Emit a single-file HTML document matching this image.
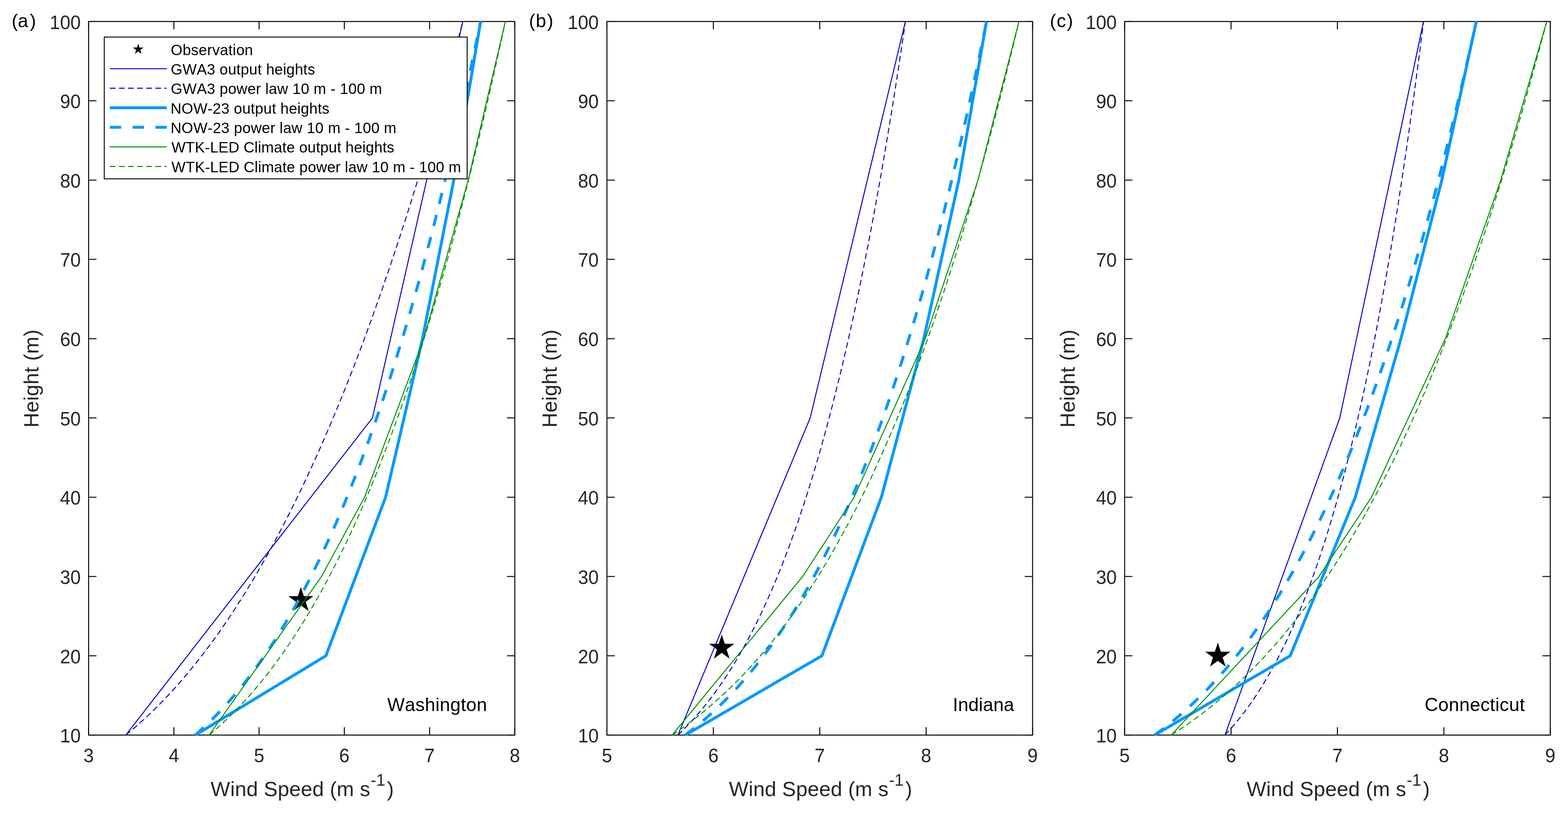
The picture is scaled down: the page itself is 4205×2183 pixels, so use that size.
<!DOCTYPE html>
<html lang="en">
<head>
<meta charset="utf-8">
<title>Wind speed profiles</title>
<style>
html,body{margin:0;padding:0;background:#fff;width:4205px;height:2183px;overflow:hidden;}
svg{display:block;}
text{font-family:"Liberation Sans",Arial,Helvetica,sans-serif;font-kerning:none;white-space:pre;}
.tk{font-size:50px;fill:#262626;}
.lb{font-size:55.5px;fill:#262626;}
.sp{font-size:44.4px;fill:#262626;}
.lg{font-size:40.2px;fill:#000;}
.an{font-size:50px;fill:#000;}
.ax{stroke:#000;stroke-width:2.6;fill:none;stroke-linecap:butt;}
.l{fill:none;stroke-linejoin:round;stroke-linecap:butt;}
.db{stroke:#0000cd;stroke-width:2.65;}
.lbl{stroke:#0099ff;stroke-width:7.8;}
.gr{stroke:#009000;stroke-width:2.65;}
.d1{stroke-dasharray:15.3 9.1;}
.d2{stroke-dasharray:30.5 30.6;}
</style>
</head>
<body>
<svg width="4205" height="2183" viewBox="0 0 4205 2183" role="img" aria-label="Wind speed profiles versus height for Washington, Indiana and Connecticut">
<rect x="0" y="0" width="4205" height="2183" fill="#fff"/>
<g id="panel-a">
<rect class="ax" x="237.7" y="57.7" width="1142.9" height="1913.6"/>
<path class="ax" d="M237.7 1971.3 v-21 M237.7 57.7 v21 M466.28 1971.3 v-21 M466.28 57.7 v21 M694.86 1971.3 v-21 M694.86 57.7 v21 M923.44 1971.3 v-21 M923.44 57.7 v21 M1152.02 1971.3 v-21 M1152.02 57.7 v21 M1380.6 1971.3 v-21 M1380.6 57.7 v21 M237.7 1971.3 h21 M1380.6 1971.3 h-21 M237.7 1758.68 h21 M1380.6 1758.68 h-21 M237.7 1546.06 h21 M1380.6 1546.06 h-21 M237.7 1333.43 h21 M1380.6 1333.43 h-21 M237.7 1120.81 h21 M1380.6 1120.81 h-21 M237.7 908.19 h21 M1380.6 908.19 h-21 M237.7 695.57 h21 M1380.6 695.57 h-21 M237.7 482.94 h21 M1380.6 482.94 h-21 M237.7 270.32 h21 M1380.6 270.32 h-21 M237.7 57.7 h21 M1380.6 57.7 h-21"/>
<polygon points="806.86,1574.24 814.86,1598.84 840.72,1598.84 819.8,1614.04 827.79,1638.64 806.86,1623.44 785.94,1638.64 793.93,1614.04 773.01,1598.84 798.87,1598.84" fill="#000"/>
<path class="l db" d="M337.36 1971.3 L998.87 1120.81 L1241.17 57.7"/>
<path class="l db d1" d="M337.36 1971.3 L362.66 1950.04 L386.46 1928.78 L408.97 1907.51 L430.36 1886.25 L450.75 1864.99 L470.25 1843.73 L488.95 1822.46 L506.94 1801.2 L524.26 1779.94 L540.99 1758.68 L557.17 1737.42 L572.85 1716.15 L588.05 1694.89 L602.82 1673.63 L617.19 1652.37 L631.17 1631.1 L644.81 1609.84 L658.11 1588.58 L671.09 1567.32 L683.78 1546.06 L696.19 1524.79 L708.34 1503.53 L720.23 1482.27 L731.89 1461.01 L743.32 1439.74 L754.54 1418.48 L765.55 1397.22 L776.36 1375.96 L786.98 1354.7 L797.42 1333.43 L807.69 1312.17 L817.8 1290.91 L827.74 1269.65 L837.54 1248.38 L847.18 1227.12 L856.68 1205.86 L866.05 1184.6 L875.28 1163.34 L884.39 1142.07 L893.37 1120.81 L902.24 1099.55 L910.99 1078.29 L919.62 1057.02 L928.15 1035.76 L936.58 1014.5 L944.9 993.24 L953.12 971.98 L961.25 950.71 L969.29 929.45 L977.23 908.19 L985.09 886.93 L992.86 865.66 L1000.55 844.4 L1008.16 823.14 L1015.68 801.88 L1023.14 780.62 L1030.51 759.35 L1037.82 738.09 L1045.05 716.83 L1052.21 695.57 L1059.3 674.3 L1066.33 653.04 L1073.3 631.78 L1080.2 610.52 L1087.03 589.26 L1093.81 567.99 L1100.53 546.73 L1107.19 525.47 L1113.79 504.21 L1120.34 482.94 L1126.83 461.68 L1133.27 440.42 L1139.66 419.16 L1146 397.9 L1152.28 376.63 L1158.52 355.37 L1164.71 334.11 L1170.85 312.85 L1176.95 291.58 L1183 270.32 L1189 249.06 L1194.96 227.8 L1200.88 206.54 L1206.76 185.27 L1212.59 164.01 L1218.39 142.75 L1224.14 121.49 L1229.85 100.22 L1235.53 78.96 L1241.17 57.7"/>
<path class="l lbl" d="M523.65 1971.3 L874.07 1758.68 L1034.07 1333.43 L1133.05 908.19 L1216.94 482.94 L1288.94 57.7"/>
<path class="l lbl d2" d="M523.65 1971.3 L547.3 1950.04 L569.39 1928.78 L590.14 1907.51 L609.73 1886.25 L628.3 1864.99 L645.97 1843.73 L662.83 1822.46 L678.96 1801.2 L694.44 1779.94 L709.32 1758.68 L723.65 1737.42 L737.48 1716.15 L750.85 1694.89 L763.79 1673.63 L776.34 1652.37 L788.51 1631.1 L800.34 1609.84 L811.85 1588.58 L823.05 1567.32 L833.97 1546.06 L844.62 1524.79 L855.01 1503.53 L865.16 1482.27 L875.09 1461.01 L884.8 1439.74 L894.31 1418.48 L903.62 1397.22 L912.74 1375.96 L921.69 1354.7 L930.46 1333.43 L939.08 1312.17 L947.54 1290.91 L955.84 1269.65 L964.01 1248.38 L972.04 1227.12 L979.93 1205.86 L987.7 1184.6 L995.35 1163.34 L1002.87 1142.07 L1010.29 1120.81 L1017.59 1099.55 L1024.79 1078.29 L1031.88 1057.02 L1038.88 1035.76 L1045.78 1014.5 L1052.58 993.24 L1059.3 971.98 L1065.92 950.71 L1072.47 929.45 L1078.93 908.19 L1085.31 886.93 L1091.61 865.66 L1097.84 844.4 L1103.99 823.14 L1110.07 801.88 L1116.09 780.62 L1122.03 759.35 L1127.91 738.09 L1133.72 716.83 L1139.48 695.57 L1145.17 674.3 L1150.8 653.04 L1156.37 631.78 L1161.89 610.52 L1167.35 589.26 L1172.75 567.99 L1178.11 546.73 L1183.41 525.47 L1188.66 504.21 L1193.86 482.94 L1199.02 461.68 L1204.12 440.42 L1209.18 419.16 L1214.2 397.9 L1219.17 376.63 L1224.09 355.37 L1228.98 334.11 L1233.82 312.85 L1238.62 291.58 L1243.38 270.32 L1248.1 249.06 L1252.78 227.8 L1257.43 206.54 L1262.04 185.27 L1266.61 164.01 L1271.14 142.75 L1275.64 121.49 L1280.11 100.22 L1284.54 78.96 L1288.94 57.7"/>
<path class="l gr" d="M560.91 1971.3 L862.18 1546.06 L977.61 1333.43 L1136.48 908.19 L1255.57 482.94 L1355.23 57.7"/>
<path class="l gr d1" d="M560.91 1971.3 L585.46 1950.04 L608.39 1928.78 L629.93 1907.51 L650.26 1886.25 L669.54 1864.99 L687.88 1843.73 L705.38 1822.46 L722.13 1801.2 L738.19 1779.94 L753.64 1758.68 L768.51 1737.42 L782.87 1716.15 L796.75 1694.89 L810.18 1673.63 L823.2 1652.37 L835.83 1631.1 L848.11 1609.84 L860.05 1588.58 L871.68 1567.32 L883.01 1546.06 L894.07 1524.79 L904.86 1503.53 L915.39 1482.27 L925.7 1461.01 L935.78 1439.74 L945.64 1418.48 L955.31 1397.22 L964.78 1375.96 L974.06 1354.7 L983.17 1333.43 L992.11 1312.17 L1000.89 1290.91 L1009.51 1269.65 L1017.99 1248.38 L1026.32 1227.12 L1034.52 1205.86 L1042.58 1184.6 L1050.51 1163.34 L1058.33 1142.07 L1066.02 1120.81 L1073.6 1099.55 L1081.07 1078.29 L1088.43 1057.02 L1095.69 1035.76 L1102.85 1014.5 L1109.92 993.24 L1116.89 971.98 L1123.77 950.71 L1130.56 929.45 L1137.26 908.19 L1143.88 886.93 L1150.43 865.66 L1156.89 844.4 L1163.28 823.14 L1169.59 801.88 L1175.83 780.62 L1182 759.35 L1188.1 738.09 L1194.14 716.83 L1200.11 695.57 L1206.01 674.3 L1211.86 653.04 L1217.64 631.78 L1223.37 610.52 L1229.03 589.26 L1234.64 567.99 L1240.2 546.73 L1245.7 525.47 L1251.15 504.21 L1256.55 482.94 L1261.9 461.68 L1267.2 440.42 L1272.45 419.16 L1277.66 397.9 L1282.81 376.63 L1287.93 355.37 L1293 334.11 L1298.02 312.85 L1303 291.58 L1307.94 270.32 L1312.84 249.06 L1317.7 227.8 L1322.53 206.54 L1327.31 185.27 L1332.05 164.01 L1336.76 142.75 L1341.43 121.49 L1346.06 100.22 L1350.66 78.96 L1355.23 57.7"/>
<text class="tk" transform="translate(237.7 2043.5) scale(1 1.034)" text-anchor="middle">3</text>
<text class="tk" transform="translate(466.28 2043.5) scale(1 1.034)" text-anchor="middle">4</text>
<text class="tk" transform="translate(694.86 2043.5) scale(1 1.034)" text-anchor="middle">5</text>
<text class="tk" transform="translate(923.44 2043.5) scale(1 1.034)" text-anchor="middle">6</text>
<text class="tk" transform="translate(1152.02 2043.5) scale(1 1.034)" text-anchor="middle">7</text>
<text class="tk" transform="translate(1380.6 2043.5) scale(1 1.034)" text-anchor="middle">8</text>
<text class="tk" transform="translate(216.6 1991.2) scale(1 1.034)" text-anchor="end">10</text>
<text class="tk" transform="translate(216.6 1778.58) scale(1 1.034)" text-anchor="end">20</text>
<text class="tk" transform="translate(216.6 1565.96) scale(1 1.034)" text-anchor="end">30</text>
<text class="tk" transform="translate(216.6 1353.33) scale(1 1.034)" text-anchor="end">40</text>
<text class="tk" transform="translate(216.6 1140.71) scale(1 1.034)" text-anchor="end">50</text>
<text class="tk" transform="translate(216.6 928.09) scale(1 1.034)" text-anchor="end">60</text>
<text class="tk" transform="translate(216.6 715.47) scale(1 1.034)" text-anchor="end">70</text>
<text class="tk" transform="translate(216.6 502.84) scale(1 1.034)" text-anchor="end">80</text>
<text class="tk" transform="translate(216.6 290.22) scale(1 1.034)" text-anchor="end">90</text>
<text class="tk" transform="translate(216.6 77.6) scale(1 1.034)" text-anchor="end">100</text>
<text class="lb" x="564.86" y="2134.7" letter-spacing="0.16">Wind Speed (m s<tspan class="sp" x="994.03" y="2106.7" letter-spacing="0">-1</tspan><tspan x="1037.82" y="2134.7" letter-spacing="0">)</tspan></text>
<text class="lb" transform="translate(103.2 1142.3) rotate(-90)" x="-4.55" y="0" letter-spacing="0.45">Height (m)</text>
<text class="an" x="31.22 47.83 79.93" y="72.5">(a)</text>
<text class="an" x="1038.28" y="1906.5" letter-spacing="0.41">Washington</text>
</g>
<g id="panel-b">
<rect class="ax" x="1627.7" y="57.7" width="1141.4" height="1913.6"/>
<path class="ax" d="M1627.7 1971.3 v-21 M1627.7 57.7 v21 M1913.05 1971.3 v-21 M1913.05 57.7 v21 M2198.4 1971.3 v-21 M2198.4 57.7 v21 M2483.75 1971.3 v-21 M2483.75 57.7 v21 M2769.1 1971.3 v-21 M2769.1 57.7 v21 M1627.7 1971.3 h21 M2769.1 1971.3 h-21 M1627.7 1758.68 h21 M2769.1 1758.68 h-21 M1627.7 1546.06 h21 M2769.1 1546.06 h-21 M1627.7 1333.43 h21 M2769.1 1333.43 h-21 M1627.7 1120.81 h21 M2769.1 1120.81 h-21 M1627.7 908.19 h21 M2769.1 908.19 h-21 M1627.7 695.57 h21 M2769.1 695.57 h-21 M1627.7 482.94 h21 M2769.1 482.94 h-21 M1627.7 270.32 h21 M2769.1 270.32 h-21 M1627.7 57.7 h21 M2769.1 57.7 h-21"/>
<polygon points="1935.59,1701.82 1943.59,1726.41 1969.45,1726.41 1948.53,1741.62 1956.52,1766.22 1935.59,1751.01 1914.67,1766.22 1922.66,1741.62 1901.74,1726.41 1927.6,1726.41" fill="#000"/>
<path class="l db" d="M1818.03 1971.3 L2172.72 1120.81 L2428.11 57.7"/>
<path class="l db d1" d="M1818.03 1971.3 L1839.6 1950.04 L1859.54 1928.78 L1878.1 1907.51 L1895.47 1886.25 L1911.8 1864.99 L1927.22 1843.73 L1941.83 1822.46 L1955.72 1801.2 L1968.95 1779.94 L1981.61 1758.68 L1993.73 1737.42 L2005.36 1716.15 L2016.54 1694.89 L2027.32 1673.63 L2037.71 1652.37 L2047.75 1631.1 L2057.47 1609.84 L2066.88 1588.58 L2076 1567.32 L2084.86 1546.06 L2093.47 1524.79 L2101.84 1503.53 L2109.99 1482.27 L2117.93 1461.01 L2125.67 1439.74 L2133.22 1418.48 L2140.6 1397.22 L2147.8 1375.96 L2154.84 1354.7 L2161.73 1333.43 L2168.47 1312.17 L2175.08 1290.91 L2181.55 1269.65 L2187.89 1248.38 L2194.1 1227.12 L2200.2 1205.86 L2206.19 1184.6 L2212.07 1163.34 L2217.84 1142.07 L2223.51 1120.81 L2229.09 1099.55 L2234.57 1078.29 L2239.96 1057.02 L2245.27 1035.76 L2250.49 1014.5 L2255.63 993.24 L2260.69 971.98 L2265.68 950.71 L2270.59 929.45 L2275.43 908.19 L2280.2 886.93 L2284.91 865.66 L2289.55 844.4 L2294.13 823.14 L2298.64 801.88 L2303.1 780.62 L2307.5 759.35 L2311.84 738.09 L2316.13 716.83 L2320.37 695.57 L2324.55 674.3 L2328.68 653.04 L2332.77 631.78 L2336.8 610.52 L2340.79 589.26 L2344.74 567.99 L2348.64 546.73 L2352.49 525.47 L2356.31 504.21 L2360.08 482.94 L2363.81 461.68 L2367.5 440.42 L2371.16 419.16 L2374.77 397.9 L2378.35 376.63 L2381.9 355.37 L2385.4 334.11 L2388.88 312.85 L2392.32 291.58 L2395.72 270.32 L2399.1 249.06 L2402.44 227.8 L2405.75 206.54 L2409.03 185.27 L2412.28 164.01 L2415.5 142.75 L2418.7 121.49 L2421.86 100.22 L2425 78.96 L2428.11 57.7"/>
<path class="l lbl" d="M1837.72 1971.3 L2204.11 1758.68 L2363.62 1333.43 L2477.47 908.19 L2571.35 482.94 L2645.54 57.7"/>
<path class="l lbl d2" d="M1837.72 1971.3 L1865.12 1950.04 L1890.54 1928.78 L1914.27 1907.51 L1936.53 1886.25 L1957.52 1864.99 L1977.38 1843.73 L1996.24 1822.46 L2014.21 1801.2 L2031.37 1779.94 L2047.8 1758.68 L2063.57 1737.42 L2078.73 1716.15 L2093.32 1694.89 L2107.41 1673.63 L2121.02 1652.37 L2134.18 1631.1 L2146.93 1609.84 L2159.3 1588.58 L2171.31 1567.32 L2182.98 1546.06 L2194.34 1524.79 L2205.39 1503.53 L2216.17 1482.27 L2226.68 1461.01 L2236.93 1439.74 L2246.95 1418.48 L2256.74 1397.22 L2266.31 1375.96 L2275.68 1354.7 L2284.85 1333.43 L2293.84 1312.17 L2302.64 1290.91 L2311.28 1269.65 L2319.75 1248.38 L2328.06 1227.12 L2336.22 1205.86 L2344.23 1184.6 L2352.11 1163.34 L2359.85 1142.07 L2367.46 1120.81 L2374.95 1099.55 L2382.32 1078.29 L2389.57 1057.02 L2396.71 1035.76 L2403.74 1014.5 L2410.66 993.24 L2417.49 971.98 L2424.21 950.71 L2430.85 929.45 L2437.38 908.19 L2443.83 886.93 L2450.2 865.66 L2456.48 844.4 L2462.67 823.14 L2468.79 801.88 L2474.83 780.62 L2480.8 759.35 L2486.69 738.09 L2492.51 716.83 L2498.26 695.57 L2503.94 674.3 L2509.56 653.04 L2515.12 631.78 L2520.61 610.52 L2526.04 589.26 L2531.41 567.99 L2536.73 546.73 L2541.98 525.47 L2547.18 504.21 L2552.33 482.94 L2557.43 461.68 L2562.47 440.42 L2567.46 419.16 L2572.4 397.9 L2577.3 376.63 L2582.15 355.37 L2586.95 334.11 L2591.7 312.85 L2596.41 291.58 L2601.08 270.32 L2605.71 249.06 L2610.29 227.8 L2614.83 206.54 L2619.33 185.27 L2623.8 164.01 L2628.22 142.75 L2632.61 121.49 L2636.95 100.22 L2641.27 78.96 L2645.54 57.7"/>
<path class="l gr" d="M1802.48 1971.3 L2152.46 1546.06 L2290.57 1333.43 L2481.47 908.19 L2622.72 482.94 L2732.58 57.7"/>
<path class="l gr d1" d="M1802.48 1971.3 L1833.12 1950.04 L1861.61 1928.78 L1888.26 1907.51 L1913.31 1886.25 L1936.96 1864.99 L1959.39 1843.73 L1980.71 1822.46 L2001.06 1801.2 L2020.52 1779.94 L2039.17 1758.68 L2057.1 1737.42 L2074.35 1716.15 L2090.98 1694.89 L2107.05 1673.63 L2122.58 1652.37 L2137.63 1631.1 L2152.22 1609.84 L2166.38 1588.58 L2180.15 1567.32 L2193.54 1546.06 L2206.57 1524.79 L2219.27 1503.53 L2231.66 1482.27 L2243.75 1461.01 L2255.56 1439.74 L2267.11 1418.48 L2278.4 1397.22 L2289.44 1375.96 L2300.26 1354.7 L2310.86 1333.43 L2321.24 1312.17 L2331.43 1290.91 L2341.42 1269.65 L2351.23 1248.38 L2360.86 1227.12 L2370.32 1205.86 L2379.62 1184.6 L2388.76 1163.34 L2397.75 1142.07 L2406.59 1120.81 L2415.3 1099.55 L2423.86 1078.29 L2432.3 1057.02 L2440.61 1035.76 L2448.8 1014.5 L2456.87 993.24 L2464.82 971.98 L2472.66 950.71 L2480.4 929.45 L2488.03 908.19 L2495.56 886.93 L2502.99 865.66 L2510.33 844.4 L2517.57 823.14 L2524.73 801.88 L2531.79 780.62 L2538.77 759.35 L2545.67 738.09 L2552.49 716.83 L2559.23 695.57 L2565.89 674.3 L2572.48 653.04 L2578.99 631.78 L2585.43 610.52 L2591.81 589.26 L2598.11 567.99 L2604.35 546.73 L2610.53 525.47 L2616.64 504.21 L2622.69 482.94 L2628.68 461.68 L2634.61 440.42 L2640.48 419.16 L2646.3 397.9 L2652.06 376.63 L2657.77 355.37 L2663.43 334.11 L2669.03 312.85 L2674.58 291.58 L2680.08 270.32 L2685.54 249.06 L2690.94 227.8 L2696.3 206.54 L2701.61 185.27 L2706.88 164.01 L2712.11 142.75 L2717.29 121.49 L2722.42 100.22 L2727.52 78.96 L2732.58 57.7"/>
<text class="tk" transform="translate(1627.7 2043.5) scale(1 1.034)" text-anchor="middle">5</text>
<text class="tk" transform="translate(1913.05 2043.5) scale(1 1.034)" text-anchor="middle">6</text>
<text class="tk" transform="translate(2198.4 2043.5) scale(1 1.034)" text-anchor="middle">7</text>
<text class="tk" transform="translate(2483.75 2043.5) scale(1 1.034)" text-anchor="middle">8</text>
<text class="tk" transform="translate(2769.1 2043.5) scale(1 1.034)" text-anchor="middle">9</text>
<text class="tk" transform="translate(1605.6 1991.2) scale(1 1.034)" text-anchor="end">10</text>
<text class="tk" transform="translate(1605.6 1778.58) scale(1 1.034)" text-anchor="end">20</text>
<text class="tk" transform="translate(1605.6 1565.96) scale(1 1.034)" text-anchor="end">30</text>
<text class="tk" transform="translate(1605.6 1353.33) scale(1 1.034)" text-anchor="end">40</text>
<text class="tk" transform="translate(1605.6 1140.71) scale(1 1.034)" text-anchor="end">50</text>
<text class="tk" transform="translate(1605.6 928.09) scale(1 1.034)" text-anchor="end">60</text>
<text class="tk" transform="translate(1605.6 715.47) scale(1 1.034)" text-anchor="end">70</text>
<text class="tk" transform="translate(1605.6 502.84) scale(1 1.034)" text-anchor="end">80</text>
<text class="tk" transform="translate(1605.6 290.22) scale(1 1.034)" text-anchor="end">90</text>
<text class="tk" transform="translate(1605.6 77.6) scale(1 1.034)" text-anchor="end">100</text>
<text class="lb" x="1954.86" y="2134.7" letter-spacing="0.16">Wind Speed (m s<tspan class="sp" x="2384.03" y="2106.7" letter-spacing="0">-1</tspan><tspan x="2427.82" y="2134.7" letter-spacing="0">)</tspan></text>
<text class="lb" transform="translate(1493.2 1142.3) rotate(-90)" x="-4.55" y="0" letter-spacing="0.45">Height (m)</text>
<text class="an" x="1418.52 1436.78 1467.23" y="72.5">(b)</text>
<text class="an" x="2555.19" y="1906.5" letter-spacing="0.06">Indiana</text>
</g>
<g id="panel-c">
<rect class="ax" x="3016" y="57.7" width="1141.4" height="1913.6"/>
<path class="ax" d="M3016 1971.3 v-21 M3016 57.7 v21 M3301.35 1971.3 v-21 M3301.35 57.7 v21 M3586.7 1971.3 v-21 M3586.7 57.7 v21 M3872.05 1971.3 v-21 M3872.05 57.7 v21 M4157.4 1971.3 v-21 M4157.4 57.7 v21 M3016 1971.3 h21 M4157.4 1971.3 h-21 M3016 1758.68 h21 M4157.4 1758.68 h-21 M3016 1546.06 h21 M4157.4 1546.06 h-21 M3016 1333.43 h21 M4157.4 1333.43 h-21 M3016 1120.81 h21 M4157.4 1120.81 h-21 M3016 908.19 h21 M4157.4 908.19 h-21 M3016 695.57 h21 M4157.4 695.57 h-21 M3016 482.94 h21 M4157.4 482.94 h-21 M3016 270.32 h21 M4157.4 270.32 h-21 M3016 57.7 h21 M4157.4 57.7 h-21"/>
<polygon points="3265.97,1723.08 3273.96,1747.68 3299.82,1747.68 3278.9,1762.88 3286.89,1787.48 3265.97,1772.28 3245.04,1787.48 3253.03,1762.88 3232.11,1747.68 3257.97,1747.68" fill="#000"/>
<path class="l db" d="M3285.09 1971.3 L3592.98 1120.81 L3817.55 57.7"/>
<path class="l db d1" d="M3285.09 1971.3 L3304.36 1950.04 L3322.15 1928.78 L3338.68 1907.51 L3354.12 1886.25 L3368.62 1864.99 L3382.29 1843.73 L3395.23 1822.46 L3407.51 1801.2 L3419.21 1779.94 L3430.37 1758.68 L3441.06 1737.42 L3451.3 1716.15 L3461.14 1694.89 L3470.61 1673.63 L3479.74 1652.37 L3488.56 1631.1 L3497.08 1609.84 L3505.32 1588.58 L3513.31 1567.32 L3521.06 1546.06 L3528.59 1524.79 L3535.91 1503.53 L3543.02 1482.27 L3549.95 1461.01 L3556.7 1439.74 L3563.29 1418.48 L3569.71 1397.22 L3575.99 1375.96 L3582.11 1354.7 L3588.11 1333.43 L3593.97 1312.17 L3599.71 1290.91 L3605.32 1269.65 L3610.83 1248.38 L3616.22 1227.12 L3621.51 1205.86 L3626.7 1184.6 L3631.8 1163.34 L3636.8 1142.07 L3641.71 1120.81 L3646.53 1099.55 L3651.28 1078.29 L3655.94 1057.02 L3660.53 1035.76 L3665.04 1014.5 L3669.48 993.24 L3673.85 971.98 L3678.15 950.71 L3682.39 929.45 L3686.57 908.19 L3690.68 886.93 L3694.74 865.66 L3698.74 844.4 L3702.68 823.14 L3706.57 801.88 L3710.41 780.62 L3714.19 759.35 L3717.93 738.09 L3721.62 716.83 L3725.26 695.57 L3728.86 674.3 L3732.41 653.04 L3735.92 631.78 L3739.38 610.52 L3742.81 589.26 L3746.19 567.99 L3749.54 546.73 L3752.85 525.47 L3756.12 504.21 L3759.36 482.94 L3762.55 461.68 L3765.72 440.42 L3768.85 419.16 L3771.95 397.9 L3775.01 376.63 L3778.05 355.37 L3781.05 334.11 L3784.02 312.85 L3786.97 291.58 L3789.88 270.32 L3792.77 249.06 L3795.62 227.8 L3798.45 206.54 L3801.26 185.27 L3804.03 164.01 L3806.79 142.75 L3809.51 121.49 L3812.22 100.22 L3814.89 78.96 L3817.55 57.7"/>
<path class="l lbl" d="M3096.47 1971.3 L3460 1758.68 L3634.64 1333.43 L3757.05 908.19 L3866.63 482.94 L3959.08 57.7"/>
<path class="l lbl d2" d="M3096.47 1971.3 L3124.97 1950.04 L3151.46 1928.78 L3176.23 1907.51 L3199.51 1886.25 L3221.5 1864.99 L3242.33 1843.73 L3262.15 1822.46 L3281.05 1801.2 L3299.12 1779.94 L3316.44 1758.68 L3333.09 1737.42 L3349.1 1716.15 L3364.55 1694.89 L3379.46 1673.63 L3393.88 1652.37 L3407.84 1631.1 L3421.38 1609.84 L3434.53 1588.58 L3447.3 1567.32 L3459.72 1546.06 L3471.81 1524.79 L3483.6 1503.53 L3495.09 1482.27 L3506.3 1461.01 L3517.25 1439.74 L3527.96 1418.48 L3538.43 1397.22 L3548.67 1375.96 L3558.7 1354.7 L3568.52 1333.43 L3578.15 1312.17 L3587.59 1290.91 L3596.86 1269.65 L3605.95 1248.38 L3614.88 1227.12 L3623.65 1205.86 L3632.26 1184.6 L3640.73 1163.34 L3649.07 1142.07 L3657.26 1120.81 L3665.32 1099.55 L3673.26 1078.29 L3681.08 1057.02 L3688.78 1035.76 L3696.36 1014.5 L3703.84 993.24 L3711.21 971.98 L3718.47 950.71 L3725.64 929.45 L3732.71 908.19 L3739.68 886.93 L3746.57 865.66 L3753.36 844.4 L3760.07 823.14 L3766.7 801.88 L3773.24 780.62 L3779.7 759.35 L3786.09 738.09 L3792.4 716.83 L3798.64 695.57 L3804.81 674.3 L3810.91 653.04 L3816.94 631.78 L3822.91 610.52 L3828.81 589.26 L3834.64 567.99 L3840.42 546.73 L3846.14 525.47 L3851.79 504.21 L3857.39 482.94 L3862.94 461.68 L3868.43 440.42 L3873.86 419.16 L3879.25 397.9 L3884.58 376.63 L3889.86 355.37 L3895.1 334.11 L3900.28 312.85 L3905.42 291.58 L3910.51 270.32 L3915.56 249.06 L3920.56 227.8 L3925.52 206.54 L3930.44 185.27 L3935.31 164.01 L3940.14 142.75 L3944.94 121.49 L3949.69 100.22 L3954.41 78.96 L3959.08 57.7"/>
<path class="l gr" d="M3140.98 1971.3 L3537.33 1546.06 L3678.01 1333.43 L3876.04 908.19 L4024.71 482.94 L4147.98 57.7"/>
<path class="l gr d1" d="M3140.98 1971.3 L3173.44 1950.04 L3203.67 1928.78 L3231.98 1907.51 L3258.64 1886.25 L3283.84 1864.99 L3307.77 1843.73 L3330.55 1822.46 L3352.3 1801.2 L3373.13 1779.94 L3393.11 1758.68 L3412.33 1737.42 L3430.84 1716.15 L3448.71 1694.89 L3465.98 1673.63 L3482.7 1652.37 L3498.89 1631.1 L3514.61 1609.84 L3529.88 1588.58 L3544.73 1567.32 L3559.18 1546.06 L3573.26 1524.79 L3586.99 1503.53 L3600.39 1482.27 L3613.47 1461.01 L3626.26 1439.74 L3638.76 1418.48 L3651 1397.22 L3662.97 1375.96 L3674.71 1354.7 L3686.21 1333.43 L3697.48 1312.17 L3708.55 1290.91 L3719.41 1269.65 L3730.07 1248.38 L3740.55 1227.12 L3750.84 1205.86 L3760.96 1184.6 L3770.92 1163.34 L3780.71 1142.07 L3790.35 1120.81 L3799.83 1099.55 L3809.18 1078.29 L3818.38 1057.02 L3827.45 1035.76 L3836.39 1014.5 L3845.2 993.24 L3853.89 971.98 L3862.46 950.71 L3870.92 929.45 L3879.26 908.19 L3887.5 886.93 L3895.63 865.66 L3903.66 844.4 L3911.59 823.14 L3919.42 801.88 L3927.16 780.62 L3934.81 759.35 L3942.37 738.09 L3949.85 716.83 L3957.24 695.57 L3964.54 674.3 L3971.77 653.04 L3978.92 631.78 L3985.99 610.52 L3992.99 589.26 L3999.91 567.99 L4006.77 546.73 L4013.55 525.47 L4020.27 504.21 L4026.92 482.94 L4033.51 461.68 L4040.03 440.42 L4046.49 419.16 L4052.89 397.9 L4059.23 376.63 L4065.52 355.37 L4071.74 334.11 L4077.91 312.85 L4084.03 291.58 L4090.09 270.32 L4096.1 249.06 L4102.06 227.8 L4107.97 206.54 L4113.82 185.27 L4119.63 164.01 L4125.4 142.75 L4131.11 121.49 L4136.78 100.22 L4142.4 78.96 L4147.98 57.7"/>
<text class="tk" transform="translate(3016 2043.5) scale(1 1.034)" text-anchor="middle">5</text>
<text class="tk" transform="translate(3301.35 2043.5) scale(1 1.034)" text-anchor="middle">6</text>
<text class="tk" transform="translate(3586.7 2043.5) scale(1 1.034)" text-anchor="middle">7</text>
<text class="tk" transform="translate(3872.05 2043.5) scale(1 1.034)" text-anchor="middle">8</text>
<text class="tk" transform="translate(4157.4 2043.5) scale(1 1.034)" text-anchor="middle">9</text>
<text class="tk" transform="translate(2994.9 1991.2) scale(1 1.034)" text-anchor="end">10</text>
<text class="tk" transform="translate(2994.9 1778.58) scale(1 1.034)" text-anchor="end">20</text>
<text class="tk" transform="translate(2994.9 1565.96) scale(1 1.034)" text-anchor="end">30</text>
<text class="tk" transform="translate(2994.9 1353.33) scale(1 1.034)" text-anchor="end">40</text>
<text class="tk" transform="translate(2994.9 1140.71) scale(1 1.034)" text-anchor="end">50</text>
<text class="tk" transform="translate(2994.9 928.09) scale(1 1.034)" text-anchor="end">60</text>
<text class="tk" transform="translate(2994.9 715.47) scale(1 1.034)" text-anchor="end">70</text>
<text class="tk" transform="translate(2994.9 502.84) scale(1 1.034)" text-anchor="end">80</text>
<text class="tk" transform="translate(2994.9 290.22) scale(1 1.034)" text-anchor="end">90</text>
<text class="tk" transform="translate(2994.9 77.6) scale(1 1.034)" text-anchor="end">100</text>
<text class="lb" x="3343.16" y="2134.7" letter-spacing="0.16">Wind Speed (m s<tspan class="sp" x="3772.33" y="2106.7" letter-spacing="0">-1</tspan><tspan x="3816.12" y="2134.7" letter-spacing="0">)</tspan></text>
<text class="lb" transform="translate(2881.5 1142.3) rotate(-90)" x="-4.55" y="0" letter-spacing="0.45">Height (m)</text>
<text class="an" x="2815.52 2833.85 2860.93" y="72.5">(c)</text>
<text class="an" x="3820.56" y="1906.5" letter-spacing="0.45">Connecticut</text>
</g>
<g id="legend">
<rect x="279.6" y="99.4" width="973.2" height="380.2" fill="#fff" stroke="#000" stroke-width="2.5"/>
<polygon points="370.7,117.15 374.1,127.62 385.11,127.62 376.2,134.09 379.6,144.56 370.7,138.09 361.8,144.56 365.2,134.09 356.29,127.62 367.3,127.62" fill="#000"/>
<text class="lg" x="458" y="147.7" letter-spacing="0.38">Observation</text>
<path class="l db" d="M294.6 184.2 H447.3"/>
<text class="lg" x="457.88" y="200" letter-spacing="0.28">GWA3 output heights</text>
<path class="l db d1" d="M294.6 236.6 H447.3"/>
<text class="lg" x="457.88" y="252.3" letter-spacing="0.32">GWA3 power law 10 m - 100 m</text>
<path class="l lbl" d="M294.6 289 H447.3"/>
<text class="lg" x="457.5" y="304.6" letter-spacing="0.3">NOW-23 output heights</text>
<path class="l lbl d2" d="M294.6 341.4 H447.3"/>
<text class="lg" x="457.5" y="356.9" letter-spacing="0.33">NOW-23 power law 10 m - 100 m</text>
<path class="l gr" d="M294.6 393.8 H447.3"/>
<text class="lg" x="459.72" y="409.2" letter-spacing="0.2">WTK-LED Climate output heights</text>
<path class="l gr d1" d="M294.6 446.3 H447.3"/>
<text class="lg" x="459.72" y="461.5" letter-spacing="0.23">WTK-LED Climate power law 10 m - 100 m</text>
</g>
</svg>
</body>
</html>
